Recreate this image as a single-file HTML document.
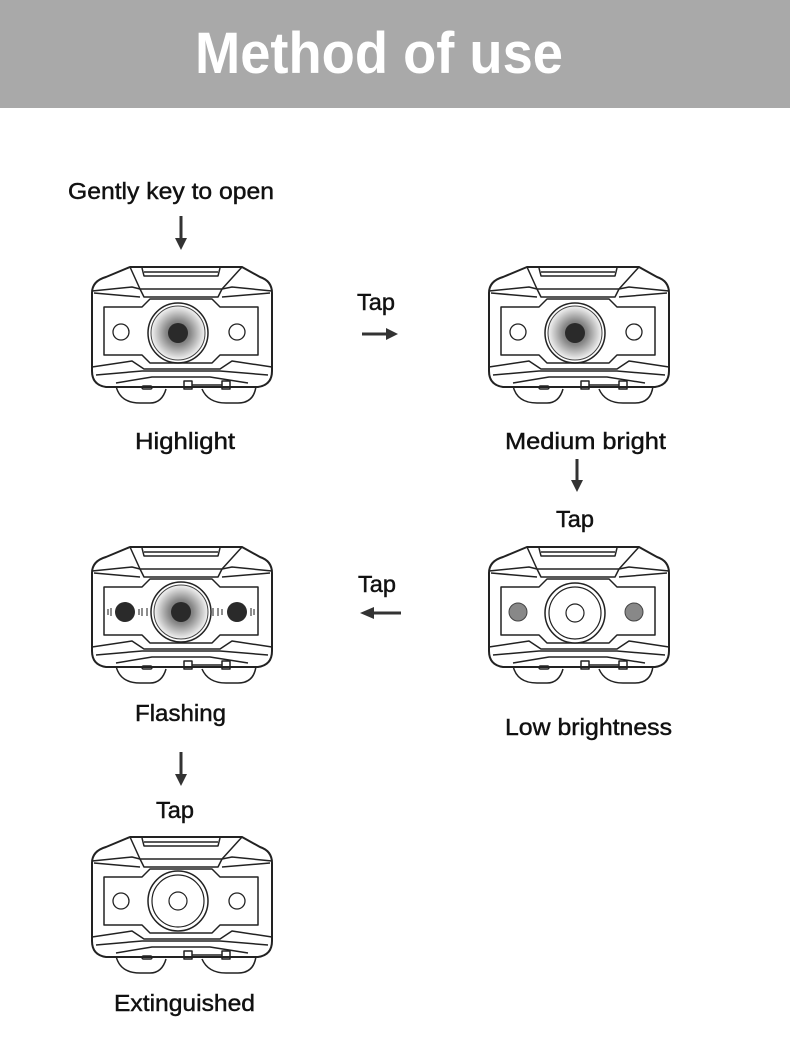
<!DOCTYPE html>
<html><head><meta charset="utf-8"><style>
html,body{margin:0;padding:0;background:#fff;}
svg{display:block;}
text{font-family:"Liberation Sans",sans-serif;fill:#111;}
.lbl text{stroke:#111;stroke-width:0.45;}
</style></head><body>
<svg width="790" height="1048" viewBox="0 0 790 1048" xmlns="http://www.w3.org/2000/svg">
<defs>
<radialGradient id="glow" cx="0.5" cy="0.5" r="0.5">
<stop offset="0" stop-color="#555"/><stop offset="0.45" stop-color="#888"/><stop offset="1" stop-color="#f4f4f4"/>
</radialGradient>
<g id="body" fill="none" stroke="#222" stroke-width="1.5" stroke-linejoin="round">
<path d="M24,121 Q28,138 48,138 L58,138 Q70,138 74,124" fill="#fff"/>
<path d="M110,124 Q116,138 134,138 L146,138 Q162,138 164,121" fill="#fff"/>
<path d="M14,12 L38,2 L150,2 L168,12 Q180,16 180,28 L180,106 Q180,120 166,122 L14,122 Q0,120 0,106 L0,28 Q0,16 14,12 Z" stroke-width="2" fill="#fff"/>
<path d="M50,3 L52,11 L126,11 L128,3"/>
<line x1="52" y1="7" x2="126" y2="7"/>
<path d="M38,2 L48,24 L130,24 L150,2"/>
<path d="M0,26 L40,22 L48,24 M180,26 L140,22 L130,24"/>
<path d="M2,28 L48,32 M178,28 L130,32"/>
<path d="M48,24 L52,32 L126,32 L130,24"/>
<path d="M12,42 L50,42 L58,34 L120,34 L128,42 L166,42 L166,90 L128,90 L120,98 L58,98 L50,90 L12,90 Z"/>
<path d="M0,102 L40,96 L52,104 L128,104 L140,96 L180,102"/>
<path d="M4,110 L50,106 L128,106 L176,110"/>
<path d="M24,118 L60,112 L118,112 L156,118"/>
<rect x="50" y="121" width="10" height="3" rx="1.5"/>
<rect x="92" y="116" width="8" height="8"/>
<rect x="130" y="116" width="8" height="8"/>
<line x1="100" y1="120" x2="130" y2="120"/>
</g>
</defs>

<rect x="0" y="0" width="790" height="108" fill="#a9a9a9"/>
<text x="379" y="73" font-size="58" font-weight="bold" text-anchor="middle" style="fill:#fff" textLength="368" lengthAdjust="spacingAndGlyphs">Method of use</text>

<g fill="#333" stroke="#333" stroke-width="3">
<line x1="181" y1="216" x2="181" y2="240"/><path d="M175,238 L187,238 L181,250 Z" stroke="none"/>
<line x1="362" y1="334" x2="388" y2="334"/><path d="M386,328 L398,334 L386,340 Z" stroke="none"/>
<line x1="577" y1="459" x2="577" y2="482"/><path d="M571,480 L583,480 L577,492 Z" stroke="none"/>
<line x1="372" y1="613" x2="401" y2="613"/><path d="M374,607 L360,613 L374,619 Z" stroke="none"/>
<line x1="181" y1="752" x2="181" y2="776"/><path d="M175,774 L187,774 L181,786 Z" stroke="none"/>
</g>

<g transform="translate(92,265)">
<use href="#body"/>
<circle cx="86" cy="68" r="30" fill="none" stroke="#222" stroke-width="1.5"/>
<circle cx="86" cy="68" r="27" fill="url(#glow)" stroke="#444" stroke-width="1"/>
<circle cx="86" cy="68" r="10" fill="#2a2a2a"/>
<circle cx="29" cy="67" r="8" fill="#fff" stroke="#222" stroke-width="1.3"/>
<circle cx="145" cy="67" r="8" fill="#fff" stroke="#222" stroke-width="1.3"/>
</g>
<g transform="translate(489,265)">
<use href="#body"/>
<circle cx="86" cy="68" r="30" fill="none" stroke="#222" stroke-width="1.5"/>
<circle cx="86" cy="68" r="27" fill="url(#glow)" stroke="#444" stroke-width="1"/>
<circle cx="86" cy="68" r="10" fill="#2a2a2a"/>
<circle cx="29" cy="67" r="8" fill="#fff" stroke="#222" stroke-width="1.3"/>
<circle cx="145" cy="67" r="8" fill="#fff" stroke="#222" stroke-width="1.3"/>
</g>
<g transform="translate(92,545)">
<use href="#body"/>
<circle cx="89" cy="67" r="30" fill="none" stroke="#222" stroke-width="1.5"/>
<circle cx="89" cy="67" r="27" fill="url(#glow)" stroke="#444" stroke-width="1"/>
<circle cx="89" cy="67" r="10" fill="#2a2a2a"/>
<circle cx="33" cy="67" r="10" fill="#2a2a2a"/>
<circle cx="145" cy="67" r="10" fill="#2a2a2a"/>
<g stroke="#444" stroke-width="1.2" fill="none">
<path d="M16,64 v6 M19,63 v8 M47,64 v6 M50,63 v8 M55,63 v8 M121,63 v8 M126,63 v8 M130,64 v6 M159,63 v8 M162,64 v6"/>
</g>
</g>
<g transform="translate(489,545)">
<use href="#body"/>
<circle cx="86" cy="68" r="30" fill="#fff" stroke="#222" stroke-width="1.5"/>
<circle cx="86" cy="68" r="26" fill="none" stroke="#222" stroke-width="1.2"/>
<circle cx="86" cy="68" r="9" fill="#fff" stroke="#222" stroke-width="1.2"/>
<circle cx="29" cy="67" r="9" fill="#888" stroke="#444" stroke-width="1"/>
<circle cx="145" cy="67" r="9" fill="#888" stroke="#444" stroke-width="1"/>
</g>
<g transform="translate(92,835)">
<use href="#body"/>
<circle cx="86" cy="66" r="30" fill="#fff" stroke="#222" stroke-width="1.5"/>
<circle cx="86" cy="66" r="26" fill="none" stroke="#222" stroke-width="1.2"/>
<circle cx="86" cy="66" r="9" fill="#fff" stroke="#222" stroke-width="1.2"/>
<circle cx="29" cy="66" r="8" fill="#fff" stroke="#222" stroke-width="1.3"/>
<circle cx="145" cy="66" r="8" fill="#fff" stroke="#222" stroke-width="1.3"/>
</g>

<g font-size="23" class="lbl">
<text x="68" y="199" textLength="206" lengthAdjust="spacingAndGlyphs">Gently key to open</text>
<text x="357" y="310" textLength="38" lengthAdjust="spacingAndGlyphs">Tap</text>
<text x="135" y="449" textLength="100" lengthAdjust="spacingAndGlyphs">Highlight</text>
<text x="505" y="449" textLength="161" lengthAdjust="spacingAndGlyphs">Medium bright</text>
<text x="556" y="527" textLength="38" lengthAdjust="spacingAndGlyphs">Tap</text>
<text x="358" y="592" textLength="38" lengthAdjust="spacingAndGlyphs">Tap</text>
<text x="135" y="721" textLength="91" lengthAdjust="spacingAndGlyphs">Flashing</text>
<text x="505" y="735" textLength="167" lengthAdjust="spacingAndGlyphs">Low brightness</text>
<text x="156" y="818" textLength="38" lengthAdjust="spacingAndGlyphs">Tap</text>
<text x="114" y="1011" textLength="141" lengthAdjust="spacingAndGlyphs">Extinguished</text>
</g>
</svg>
</body></html>
